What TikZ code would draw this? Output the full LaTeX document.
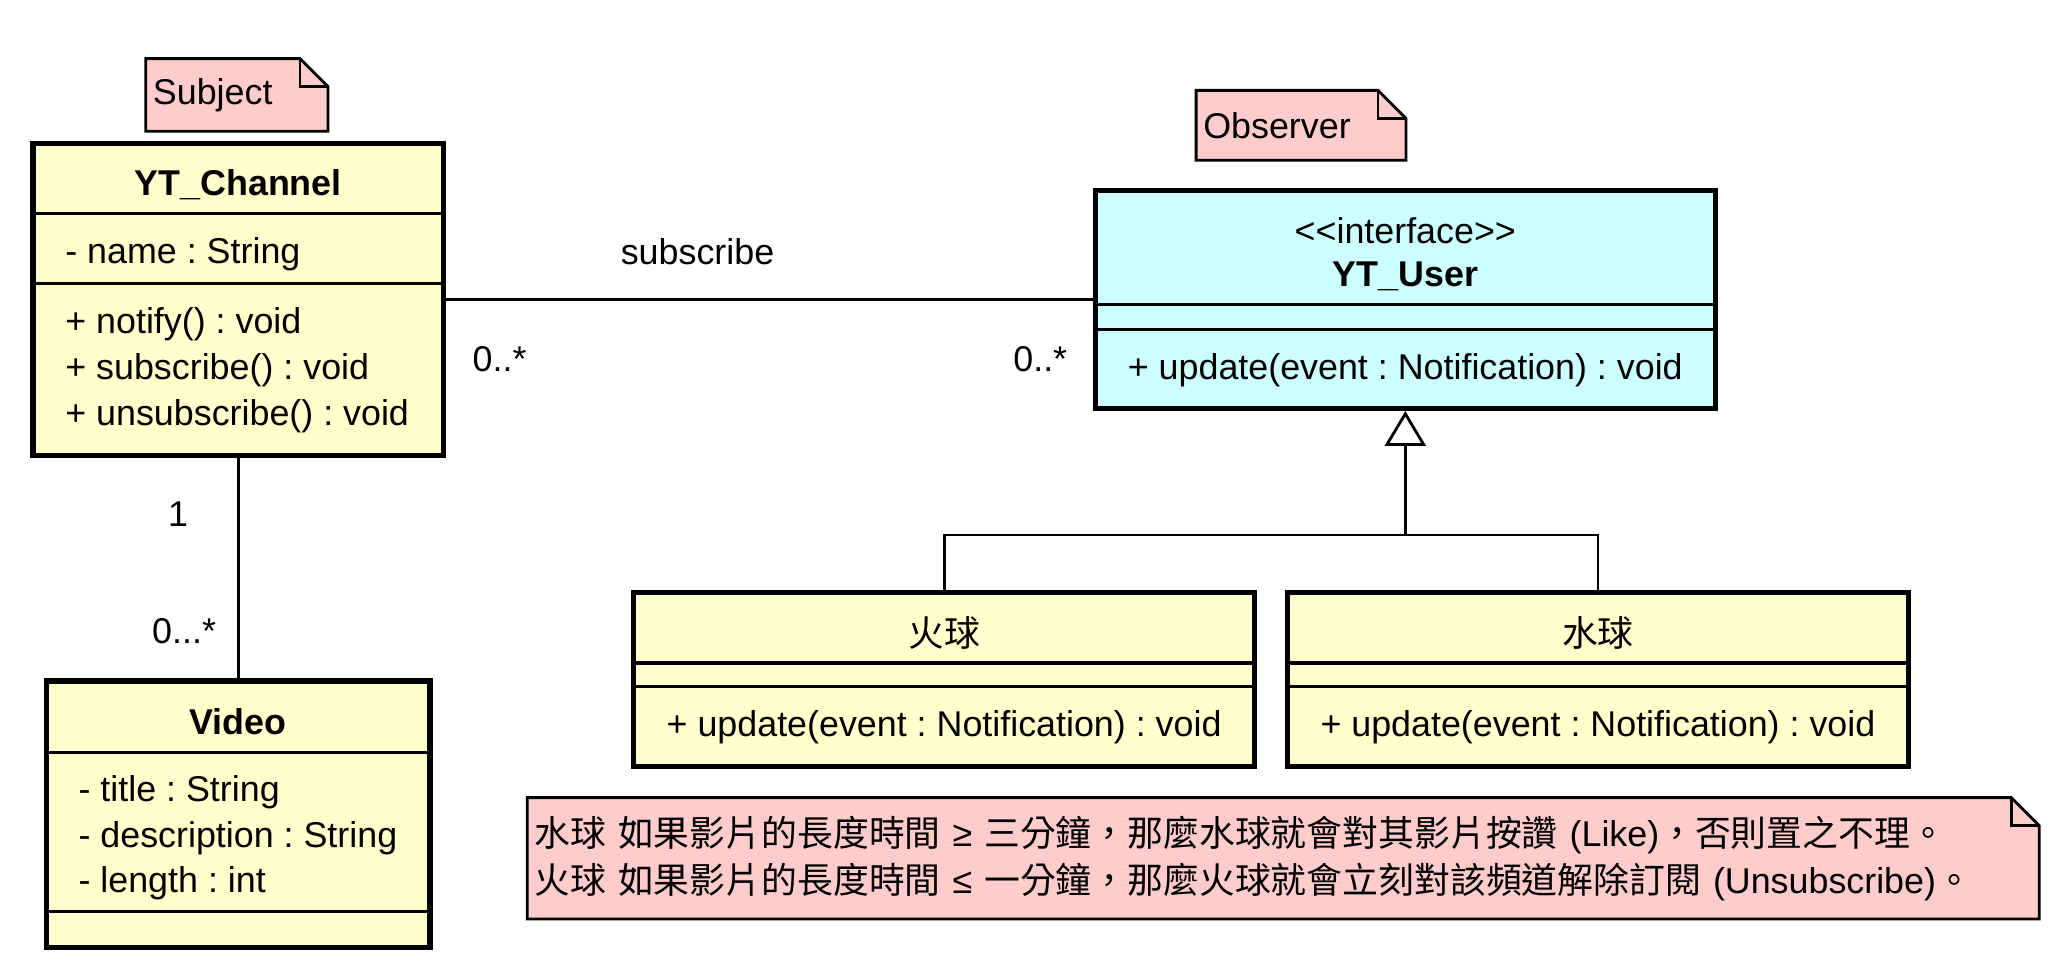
\documentclass[tikz,border=0pt]{standalone}
\usepackage{fontspec}
\setmainfont{Liberation Sans}
\newfontfamily\cjk{Noto Sans CJK TC}
\usetikzlibrary{arrows.meta,backgrounds}
\definecolor{classyellow}{RGB}{255,255,204}
\definecolor{ifacecyan}{RGB}{204,255,255}
\definecolor{notepink}{RGB}{255,204,204}
\frenchspacing
\begin{document}
\begin{tikzpicture}[x=0.013195cm, y=-0.013195cm, font=\fontsize{10.2}{13}\selectfont, line join=miter,
  classbox/.style={draw, line width=1.5pt, fill=classyellow, inner sep=0pt},
  ifacebox/.style={classbox, fill=ifacecyan},
  partline/.style={line width=0.9pt},
  classname/.style={inner sep=0pt, font=\fontsize{10.2}{13}\selectfont\bfseries},
  member/.style={inner sep=0pt, align=left, anchor=west},
  operation/.style={inner sep=0pt},
  link/.style={line width=0.8pt},
  mult/.style={inner sep=0pt},
  note/.style={inner xsep=0.065cm, inner ysep=0pt, align=left},
  notebox/.style={draw, line width=0.8pt, fill=notepink}]
\useasboundingbox (0,0) rectangle (1568,739);

% classes
\node[classbox, minimum width=4.104cm, minimum height=3.114cm] (chan) at (180.5,227) {};
\node[classname] (chantitle) at (180.5,140) {YT\_Channel};
\draw[partline] (chan.west |- 0,162) -- (chan.east |- 0,162);
\draw[partline] (chan.west |- 0,215) -- (chan.east |- 0,215);
\node[member] (chanattr) at (49,193) {- name : String};
\node[member] (chanops) at (49,280.5) {+ notify() : void\\+ subscribe() : void\\+ unsubscribe() : void};

\node[classbox, minimum width=3.840cm, minimum height=2.665cm] (video) at (180.5,617) {};
\node[classname] (videotitle) at (180.5,547) {Video};
\draw[partline] (video.west |- 0,570) -- (video.east |- 0,570);
\draw[partline] (video.west |- 0,691) -- (video.east |- 0,691);
\node[member] (videoattrs) at (59,635) {- title : String\\- description : String\\- length : int};

\node[ifacebox, minimum width=6.202cm, minimum height=2.177cm] (user) at (1065,227) {};
\node[operation] (userstereo) at (1065,175) {<{}<interface>{}>};
\node[classname] (usertitle) at (1065,209.5) {YT\_User};
\draw[partline] (user.west |- 0,231) -- (user.east |- 0,231);
\draw[partline] (user.west |- 0,250) -- (user.east |- 0,250);
\node[operation] (userop) at (1065,280.5) {+ update(event : Notification) : void};

\node[classbox, minimum width=6.215cm, minimum height=1.742cm] (huo) at (715.5,515) {};
\node[classbox, minimum width=6.215cm, minimum height=1.742cm] (shui) at (1211,515) {};
\foreach \c/\t in {huo/火球, shui/水球}{
  \node[operation, font=\cjk\fontsize{10.2}{13}\selectfont] (\c title) at (\c |- 0,480) {\t};
  \draw[partline] (\c.west |- 0,502.5) -- (\c.east |- 0,502.5);
  \draw[partline] (\c.west |- 0,520.5) -- (\c.east |- 0,520.5);
  \node[operation] (\c op) at (\c |- 0,551) {+ update(event : Notification) : void};
}

% notes
\node[note, minimum width=1.808cm, minimum height=0.713cm, text width=1.678cm] (subj) at (179.5,72) {Subject};
\node[note, minimum width=2.085cm, minimum height=0.686cm, text width=1.955cm] (obs) at (986,95) {Observer};
\node[note, minimum width=15.108cm, minimum height=1.201cm, text width=14.978cm, font=\fontsize{10.2}{13.3}\selectfont] (rule) at (972.5,650.5)
  {\mbox{{\cjk 水球 如果影片的長度時間} ≥ {\cjk 三分鐘，那麼水球就會對其影片按讚} (Like){\cjk ，否則置之不理。}}\\
   \mbox{{\cjk 火球 如果影片的長度時間} ≤ {\cjk 一分鐘，那麼火球就會立刻對該頻道解除訂閱} (Unsubscribe){\cjk 。}}};
\begin{scope}[on background layer]
\foreach \n in {subj,obs,rule}{
  \draw[notebox] (\n.south west) -- (\n.north west) -- ([xshift=-0.28cm]\n.north east) -- ([yshift=-0.28cm]\n.north east) -- (\n.south east) -- cycle;
  \draw[line width=0.8pt] ([xshift=-0.28cm]\n.north east) |- ([yshift=-0.28cm]\n.north east);
}
\end{scope}

% relations
\draw[link] (chan) -- node[mult, pos=0.389, yshift=0.475cm] (sublbl) {subscribe}
  node[mult, pos=0.083, yshift=-0.594cm] (chanmult) {0..*}
  node[mult, pos=0.919, yshift=-0.594cm] (usermult) {0..*} (user);
\draw[link] (chan.south) -- node[mult, pos=0.257, xshift=-0.600cm] (onemult) {1}
  node[mult, pos=0.784, xshift=-0.541cm] (manymult) {0...*} (video.north);
\coordinate (fork) at (user.south |- 0,405.5);
\draw[link] (huo.north) |- (fork) -| (shui.north);
\draw[link, -{Triangle[length=0.35cm, width=0.41cm, fill=white]}] (fork) -- (user.south);
\end{tikzpicture}
\end{document}
